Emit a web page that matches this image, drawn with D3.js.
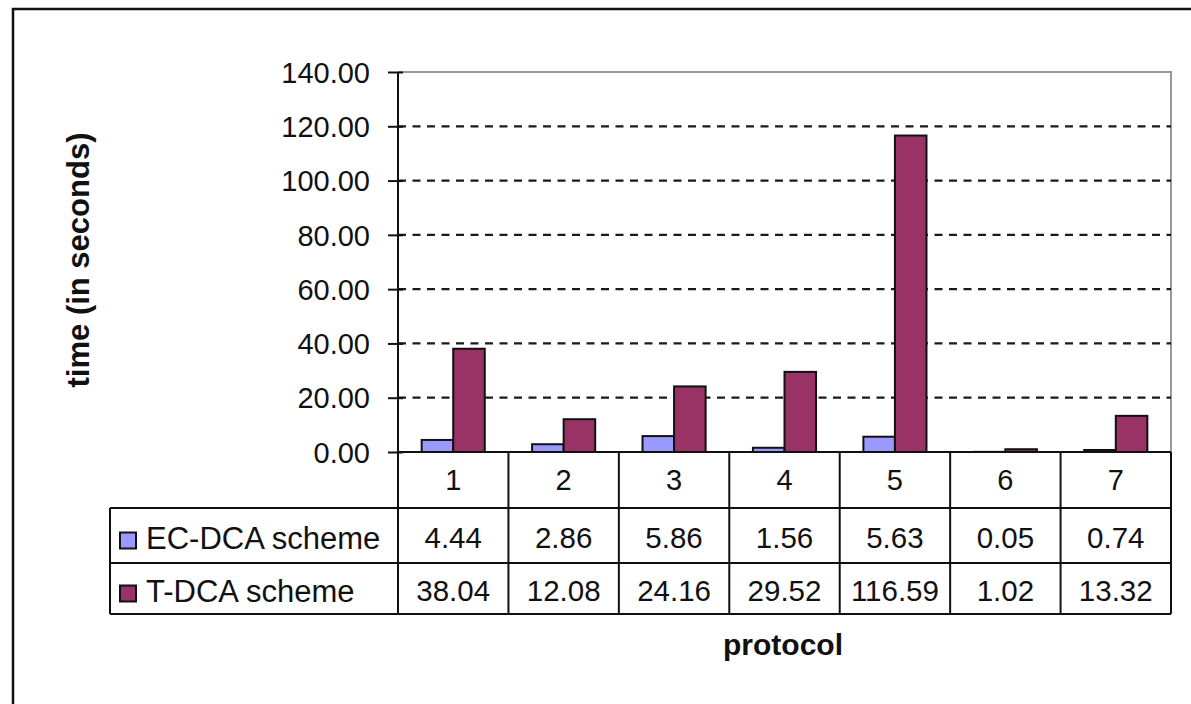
<!DOCTYPE html>
<html>
<head>
<meta charset="utf-8">
<script src="https://cdnjs.cloudflare.com/ajax/libs/d3/7.8.5/d3.min.js"></script>
<style>
  html, body { margin: 0; padding: 0; background: #fff; }
  svg { display: block; }
  text { font-family: "Liberation Sans", Arial, sans-serif; fill: #111; }
</style>
</head>
<body>
<script>
// Protocols on the category axis
const protocols = ["1", "2", "3", "4", "5", "6", "7"];
// Series names
const seriesNames = ["EC-DCA scheme", "T-DCA scheme"];
// Time in seconds per protocol
const ecDca = [4.44, 2.86, 5.86, 1.56, 5.63, 0.05, 0.74];
const tDca = [38.04, 12.08, 24.16, 29.52, 116.59, 1.02, 13.32];
// Value axis ticks
const yTicks = [0, 20, 40, 60, 80, 100, 120, 140];

const seriesValues = [ecDca, tDca];
const seriesColors = ["#9999ff", "#993366"];

const W = 1191, H = 704;
const plot = { left: 398, right: 1171, top: 72, bottom: 452 };
const rowH = [56, 55, 51];            // header row, series rows
const legendLeft = 110;

const svg = d3.select("body").append("svg")
  .attr("width", W).attr("height", H);

// outer chart frame
svg.append("path")
  .attr("d", `M13,${H + 5} L13,9 L${W + 5},9`)
  .attr("fill", "none").attr("stroke", "#111").attr("stroke-width", 2.5);

const x = d3.scaleBand().domain(protocols).range([plot.left, plot.right]).paddingInner(0).paddingOuter(0);
// two bars per category with a 150% gap
const xs = d3.scaleBand().domain(seriesNames).range([0, x.bandwidth()]).paddingInner(0).paddingOuter(0.75);
const y = d3.scaleLinear().domain([0, 140]).range([plot.bottom, plot.top]);

// plot area border (top and right)
svg.append("path")
  .attr("d", `M${plot.left},${plot.top} L${plot.right},${plot.top} L${plot.right},${plot.bottom}`)
  .attr("fill", "none").attr("stroke", "#999").attr("stroke-width", 2);

// dashed gridlines
svg.append("g").selectAll("line")
  .data(yTicks.filter(t => t > 0 && t < 140))
  .join("line")
  .attr("x1", plot.left).attr("x2", plot.right)
  .attr("y1", d => y(d)).attr("y2", d => y(d))
  .attr("stroke", "#1a1a1a").attr("stroke-width", 2.2)
  .attr("stroke-dasharray", "8,6.5");

// bars
seriesNames.forEach((name, si) => {
  svg.append("g").selectAll("rect")
    .data(protocols.map((p, i) => ({ p, v: seriesValues[si][i] })))
    .join("rect")
    .attr("x", d => x(d.p) + xs(name))
    .attr("width", xs.bandwidth())
    .attr("y", d => y(d.v))
    .attr("height", d => y(0) - y(d.v))
    .attr("fill", seriesColors[si])
    .attr("stroke", "#111").attr("stroke-width", 2);
});

// value axis
const yAxis = d3.axisLeft(y).tickValues(yTicks).tickFormat(d3.format(".2f"))
  .tickSize(0).tickPadding(28);
const yg = svg.append("g").attr("transform", `translate(${plot.left},0)`).call(yAxis);
yg.select(".domain").remove();
yg.selectAll("text").style("font-size", "29px").attr("dy", "0.35em")
  .attr("font-family", "Liberation Sans, Arial, sans-serif");
yg.selectAll(".tick").append("line")
  .attr("x1", -10).attr("x2", 5).attr("stroke", "#111").attr("stroke-width", 2);
svg.append("line")
  .attr("x1", plot.left).attr("x2", plot.left)
  .attr("y1", plot.top).attr("y2", plot.bottom)
  .attr("stroke", "#111").attr("stroke-width", 2);

// data table
const tTop = plot.bottom;
const r1 = tTop + rowH[0], r2 = r1 + rowH[1], r3 = r2 + rowH[2];
const tbl = svg.append("g");
const lineAttrs = sel => sel.attr("stroke", "#111").attr("stroke-width", 2);

// horizontal rules
tbl.append("line").attr("x1", plot.left).attr("x2", plot.right).attr("y1", tTop).attr("y2", tTop).call(lineAttrs);
[r1, r2, r3].forEach(yy => {
  tbl.append("line").attr("x1", legendLeft).attr("x2", plot.right).attr("y1", yy).attr("y2", yy).call(lineAttrs);
});
// vertical rules
protocols.forEach(p => {
  tbl.append("line").attr("x1", x(p)).attr("x2", x(p)).attr("y1", tTop).attr("y2", r3).call(lineAttrs);
});
tbl.append("line").attr("x1", plot.right).attr("x2", plot.right).attr("y1", tTop).attr("y2", r3).call(lineAttrs);
tbl.append("line").attr("x1", legendLeft).attr("x2", legendLeft).attr("y1", r1).attr("y2", r3).call(lineAttrs);

// category labels
tbl.selectAll("text.cat").data(protocols).join("text")
  .attr("class", "cat")
  .attr("x", d => x(d) + x.bandwidth() / 2)
  .attr("y", (tTop + r1) / 2).attr("dy", "0.35em")
  .attr("text-anchor", "middle").style("font-size", "29px")
  .text(d => d);

// series rows: legend key, name and values
const rowMid = [(r1 + r2) / 2 + 2.5, (r2 + r3) / 2 + 2.5];
seriesNames.forEach((name, si) => {
  tbl.append("rect")
    .attr("x", 120).attr("y", rowMid[si] - 5.5)
    .attr("width", 16).attr("height", 16)
    .attr("fill", seriesColors[si]).attr("stroke", "#111").attr("stroke-width", 2);
  tbl.append("text")
    .attr("x", 146).attr("y", rowMid[si]).attr("dy", "0.35em")
    .style("font-size", "31px").text(name);
  tbl.selectAll(null).data(protocols.map((p, i) => ({ p, v: seriesValues[si][i] }))).join("text")
    .attr("x", d => x(d.p) + x.bandwidth() / 2)
    .attr("y", rowMid[si]).attr("dy", "0.35em")
    .attr("text-anchor", "middle").style("font-size", "29.5px")
    .text(d => d3.format(".2f")(d.v));
});

// axis titles
svg.append("text")
  .attr("transform", `translate(89,260) rotate(-90)`)
  .attr("text-anchor", "middle")
  .style("font-size", "31px").style("font-weight", "bold")
  .text("time (in seconds)");
svg.append("text")
  .attr("x", 783).attr("y", 655)
  .attr("text-anchor", "middle")
  .style("font-size", "30px").style("font-weight", "bold")
  .text("protocol");
</script>
</body>
</html>
